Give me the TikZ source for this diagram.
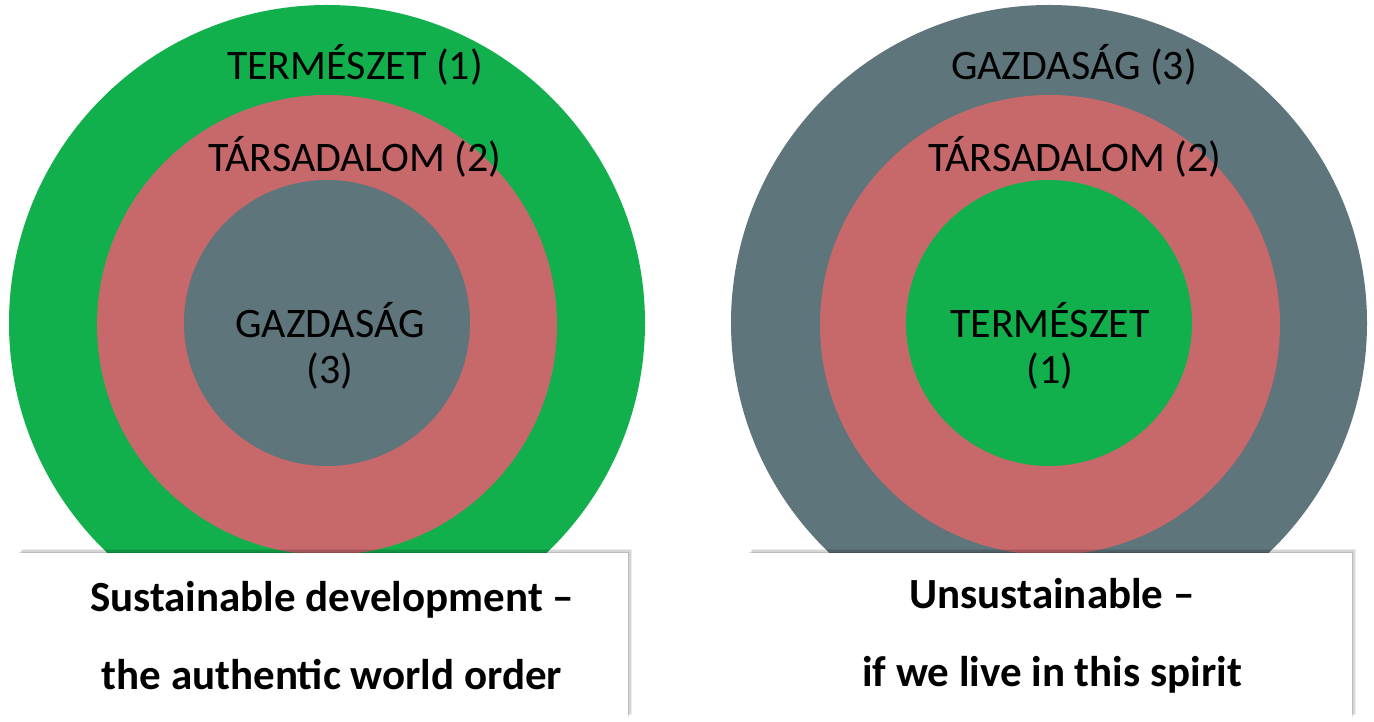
\documentclass[tikz,border=0pt]{standalone}
\usepackage{fontspec}
\setmainfont{Carlito}
\usetikzlibrary{positioning}
\usetikzlibrary{shadows}

\definecolor{natgreen}{RGB}{17,176,76}
\definecolor{socpink}{RGB}{199,104,107}
\definecolor{ecogray}{RGB}{93,117,123}

\begin{document}
\begin{tikzpicture}[x=1pt, y=1pt,
  disc/.style={circle, inner sep=0pt, draw=none},
  lbl/.style={font=\fontsize{42}{46}\selectfont, text=black, inner sep=0pt, align=center},
  capbox/.style={fill=white, draw=none, inner sep=0pt, minimum height=165pt,
    drop shadow={shadow xshift=1pt, shadow yshift=1pt, opacity=0.12, fill=black},
    drop shadow={shadow xshift=2.5pt, shadow yshift=2.5pt, opacity=0.10, fill=black},
    drop shadow={shadow xshift=4pt, shadow yshift=4pt, opacity=0.07, fill=black}},
  captxt/.style={inner sep=0pt, align=center, font=\fontsize{43}{78}\selectfont\bfseries}]
\useasboundingbox (0,0) rectangle (1374,722);

% left: sustainable
\node[disc, fill=natgreen, minimum size=636pt] (natL) at (327,399) {};
\node[disc, fill=socpink, minimum size=460pt] (socL) at (327,397) {};
\node[disc, fill=ecogray, minimum size=286pt] (ecoL) at (327,399) {};

\node[lbl] (natLtxt) at (355,657) {TERMÉSZET (1)};
\node[lbl] (socLtxt) at (355,565) {TÁRSADALOM (2)};
\node[lbl] (ecoLtxt) at (330,376) {GAZDASÁG\\(3)};

% right: unsustainable
\node[disc, fill=ecogray, minimum size=636pt] (ecoR) at (1049,399) {};
\node[disc, fill=socpink, minimum size=460pt] (socR) at (1050,397) {};
\node[disc, fill=natgreen, minimum size=286pt] (natR) at (1049,399) {};

\node[lbl] (ecoRtxt) at (1074,657) {GAZDASÁG (3)};
\node[lbl] (socRtxt) at (1075,565) {TÁRSADALOM (2)};
\node[lbl] (natRtxt) at (1050,376) {TERMÉSZET\\(1)};

% captions
\node[capbox, minimum width=610pt] (capL) at (323,86.5) {};
\node[capbox, minimum width=604pt] (capR) at (1050,86.5) {};
\node[captxt] (capLtxt) at (332,86) {Sustainable development –\\the authentic world order};
\node[captxt] (capRtxt) at (1052,86) {Unsustainable –\\if we live in this spirit};

\end{tikzpicture}
\end{document}
